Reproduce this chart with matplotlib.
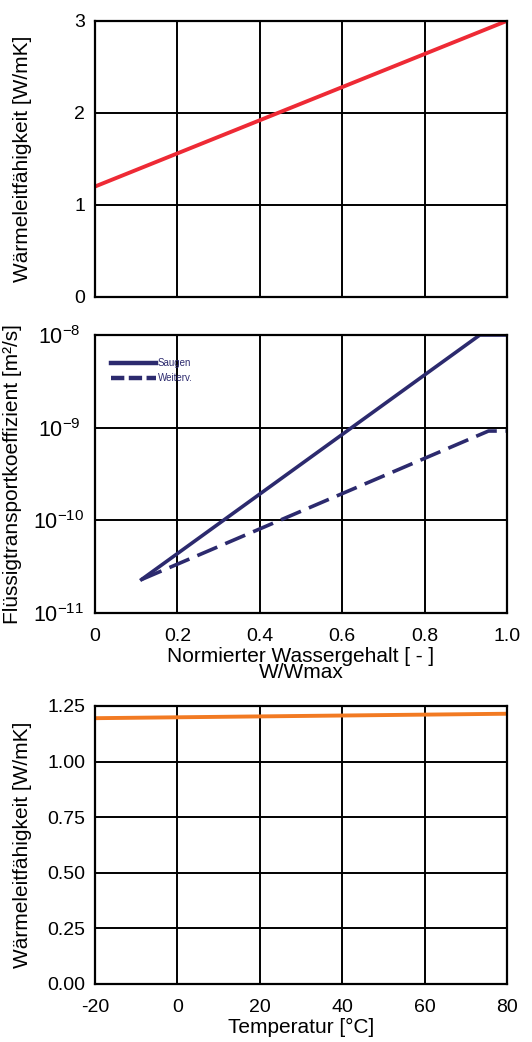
import numpy as np
import matplotlib
matplotlib.use("Agg")
import matplotlib.pyplot as plt
from matplotlib.lines import Line2D
from matplotlib.ticker import FixedLocator, FuncFormatter

plt.rcParams["font.family"] = ["Liberation Sans", "DejaVu Sans"]
plt.rcParams["mathtext.fontset"] = "custom"
plt.rcParams["mathtext.rm"] = "Liberation Sans"
plt.rcParams["mathtext.it"] = "Liberation Sans"
plt.rcParams["mathtext.default"] = "regular"
plt.rcParams["axes.unicode_minus"] = False

# --- data ---
# top panel: thermal conductivity vs. normalised water content
w_norm = [0.0, 0.2, 0.4, 0.6, 0.8, 1.0]
lambda_w = [1.2, 1.56, 1.92, 2.28, 2.64, 3.0]

# middle panel: liquid transport coefficients
w_saugen = [0.113, 0.934, 1.0]
d_saugen = [2.3e-11, 1.0e-8, 1.0e-8]
w_weiter = [0.113, 0.955, 1.0]
d_weiter = [2.3e-11, 9.2e-10, 9.2e-10]

# bottom panel: thermal conductivity vs. temperature
temp = [-20, 0, 20, 40, 60, 80]
lambda_t = [1.195, 1.199, 1.203, 1.207, 1.211, 1.215]

RED = "#ee2a35"
NAVY = "#2c2a6e"
ORANGE = "#f27a22"
TICK_FS = 14
LABEL_FS = 15

fig = plt.figure(figsize=(5.32, 10.42), dpi=100)
ax1 = fig.add_axes([0.1786, 0.715, 0.7744, 0.265])
ax2 = fig.add_axes([0.1786, 0.4117, 0.7744, 0.2668])
ax3 = fig.add_axes([0.1786, 0.0557, 0.7744, 0.2668])


def style(ax):
    ax.grid(True, color="black", linewidth=1.4)
    ax.set_axisbelow(True)
    for s in ax.spines.values():
        s.set_linewidth(1.6)
    ax.tick_params(length=0, labelsize=TICK_FS)
    ax.tick_params(axis="x", pad=11)
    ax.tick_params(axis="y", pad=7)


# top
ax1.plot(w_norm, lambda_w, color=RED, linewidth=2.8)
ax1.set_xlim(0, 1)
ax1.set_ylim(0, 3)
ax1.set_xticks([0, 0.2, 0.4, 0.6, 0.8, 1.0])
ax1.set_xticklabels([])
ax1.set_yticks([0, 1, 2, 3])
ax1.set_ylabel("Wärmeleitfähigkeit [W/mK]", fontsize=LABEL_FS)
ax1.yaxis.set_label_coords(-0.153, 0.5)
style(ax1)

# middle
ax2.plot(w_saugen, d_saugen, color=NAVY, linewidth=2.6)
ax2.plot(w_weiter, d_weiter, color=NAVY, linewidth=2.6, linestyle=(0, (6, 2.4)))
ax2.set_yscale("log")
ax2.set_xlim(0, 1)
ax2.set_ylim(1e-11, 1e-8)
ax2.set_xticks([0, 0.2, 0.4, 0.6, 0.8, 1.0])
ax2.set_xticklabels(["0", "0.2", "0.4", "0.6", "0.8", "1.0"])
ax2.yaxis.set_major_locator(FixedLocator([1e-11, 1e-10, 1e-9, 1e-8]))
ax2.yaxis.set_minor_locator(FixedLocator([]))
ax2.yaxis.set_major_formatter(
    FuncFormatter(lambda v, p: "$10^{%d}$" % int(round(np.log10(v)))))
style(ax2)
ax2.tick_params(axis="y", pad=26, labelsize=15.5)
for lab in ax2.get_yticklabels():
    lab.set_horizontalalignment("center")
ax2.set_ylabel("Flüssigtransportkoeffizient [m²/s]", fontsize=LABEL_FS)
ax2.yaxis.set_label_coords(-0.177, 0.5)
ax2.set_xlabel("Normierter Wassergehalt [ - ]\nW/Wmax", fontsize=LABEL_FS,
               linespacing=0.85, labelpad=1)
handles = [Line2D([0], [0], color=NAVY, linewidth=3.2),
           Line2D([0], [0], color=NAVY, linewidth=3.2, linestyle=(0, (3, 1)))]
leg = ax2.legend(handles, ["Saugen", "Weiterv."], loc="upper left",
                 frameon=False, fontsize=7, handlelength=4.6,
                 handletextpad=0.2, borderaxespad=0.0, labelspacing=0.5,
                 bbox_to_anchor=(0.03, 0.93))
for t in leg.get_texts():
    t.set_color(NAVY)

# bottom
ax3.plot(temp, lambda_t, color=ORANGE, linewidth=2.8)
ax3.set_xlim(-20, 80)
ax3.set_ylim(0, 1.25)
ax3.set_xticks([-20, 0, 20, 40, 60, 80])
ax3.set_yticks([0, 0.25, 0.5, 0.75, 1.0, 1.25])
ax3.yaxis.set_major_formatter(FuncFormatter(lambda v, p: "%.2f" % v))
ax3.set_ylabel("Wärmeleitfähigkeit [W/mK]", fontsize=LABEL_FS)
ax3.yaxis.set_label_coords(-0.153, 0.5)
ax3.set_xlabel("Temperatur [°C]", fontsize=LABEL_FS, labelpad=1)
style(ax3)

fig.savefig("out.png", dpi=100)
